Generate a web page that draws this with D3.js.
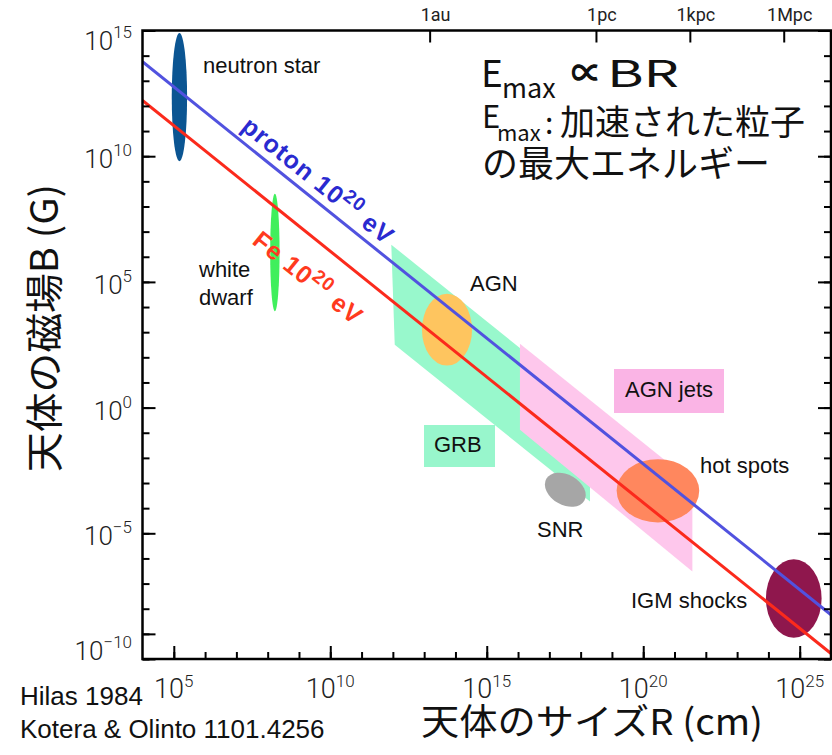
<!DOCTYPE html>
<html>
<head>
<meta charset="utf-8">
<script src="https://cdn.jsdelivr.net/npm/d3@7"></script>
<style>
  body { margin: 0; background: #fff; }
  svg { display: block; }
</style>
</head>
<body>
<div id="chart"></div>
<script>
// axis ticks (powers of ten)
var xMajorExp = [5, 10, 15, 20, 25];
var yMajorExp = [15, 10, 5, 0, -5, -10];
var topUnits = ["1au", "1pc", "1kpc", "1Mpc"];
var topUnitCm = [1.496e13, 3.086e18, 3.086e21, 3.086e24];

// Hillas condition lines, B*R product (G cm) for E = 10^20 eV
var lineNames = ["proton", "Fe"];
var lineBR = [Math.pow(10, 17.76), Math.pow(10, 16.22)];

// source classes: centre (log10 R, log10 B) and half sizes in decades
var objNames = ["neutron star", "white dwarf", "AGN", "SNR", "hot spots", "IGM shocks"];
var objLogR = [5.18, 8.23, 13.73, 17.51, 20.47, 24.81];
var objLogB = [12.35, 6.17, 3.10, -3.27, -3.31, -7.59];
var objHalfR = [0.245, 0.15, 0.80, 0.70, 1.32, 0.89];
var objHalfB = [2.55, 2.34, 1.43, 0.60, 1.26, 1.56];
var objTilt = [0, 0, 0, 30, 0, 0];

// bands, vertices as [log10 R, log10 B]
var grbBand = [[11.95, 6.48], [18.3, 0.13], [18.3, -3.74], [12.06, 2.50]];
var jetBand = [[16.06, 2.54], [21.57, -2.97], [21.57, -6.52], [16.06, -0.88]];

var width = 832, height = 755;
var pLeft = 142.5, pRight = 831, pTop = 30.5, pBottom = 659;

var objColor = ["#0b5592", "#40ef5c", "#fec55f", "#a6a6a6", "#ff875e", "#8f174d"];
var lineColor = ["#5152df", "#fb2a1c"];
var textColor = ["#2a2ad0", "#ff3a1e"];

var x = d3.scaleLog().domain([1e4, 1e26]).range([pLeft, pRight]);
var y = d3.scaleLog().domain([1e-10, 1e15]).range([pBottom, pTop]);
function p10(e) { return Math.pow(10, e); }

var svg = d3.select("#chart").append("svg")
  .attr("width", width)
  .attr("height", height);

svg.append("clipPath").attr("id", "plot-clip")
  .append("rect")
  .attr("x", pLeft).attr("y", pTop)
  .attr("width", pRight - pLeft).attr("height", pBottom - pTop);

var plot = svg.append("g").attr("clip-path", "url(#plot-clip)");

var toPoint = function(v) { return [x(p10(v[0])), y(p10(v[1]))]; };

plot.append("polygon")
  .attr("points", grbBand.map(toPoint).join(" "))
  .style("fill", "#98f8cc");

plot.append("polygon")
  .attr("points", jetBand.map(toPoint).join(" "))
  .style("fill", "#fec7ec");

// label boxes
plot.append("rect").attr("x", 614).attr("y", 369).attr("width", 110).attr("height", 44)
  .style("fill", "#fab4e5");
plot.append("rect").attr("x", 424).attr("y", 425).attr("width", 71).attr("height", 42)
  .style("fill", "#98f6cc");

plot.selectAll(".obj")
  .data(objNames)
  .enter().append("ellipse")
  .attr("class", "obj")
  .attr("transform", function(d, i) {
    return "translate(" + x(p10(objLogR[i])) + "," + y(p10(objLogB[i])) + ") rotate(" + objTilt[i] + ")";
  })
  .attr("rx", function(d, i) { return x(p10(objLogR[i] + objHalfR[i])) - x(p10(objLogR[i])); })
  .attr("ry", function(d, i) { return y(p10(objLogB[i])) - y(p10(objLogB[i] + objHalfB[i])); })
  .style("fill", function(d, i) { return objColor[i]; });

var line = d3.line()
  .x(function(d) { return x(d[0]); })
  .y(function(d) { return y(d[1]); });

plot.selectAll(".hillas")
  .data(lineBR)
  .enter().append("path")
  .attr("class", "hillas")
  .attr("d", function(br) { return line([[1e4, br / 1e4], [1e26, br / 1e26]]); })
  .style("fill", "none")
  .style("stroke", function(d, i) { return lineColor[i]; })
  .style("stroke-width", 3);

// rotated line labels
var angle = Math.atan2(y(1) - y(10), x(10) - x(1)) * 180 / Math.PI;
var lineLabelPos = [[240, 129], [251, 243]];
var lineLabelText = [["proton 10", "20", " eV"], ["Fe 10", "20", " eV"]];
lineLabelText.forEach(function(parts, i) {
  var t = svg.append("text")
    .attr("transform", "translate(" + lineLabelPos[i][0] + "," + lineLabelPos[i][1] + ") rotate(" + angle + ")")
    .style("font-family", "'Liberation Sans', Arial, sans-serif")
    .style("font-weight", "bold")
    .style("font-size", "25px")
    .style("letter-spacing", "1px")
    .style("fill", textColor[i]);
  t.append("tspan").text(parts[0]);
  t.append("tspan").attr("dy", -10).style("font-size", "19px").text(parts[1]);
  t.append("tspan").attr("dy", 10).text(parts[2]);
});

// object labels
var labels = [
  ["neutron star", 203, 73], ["white", 199, 277], ["dwarf", 199, 305],
  ["AGN", 470, 291], ["AGN jets", 625, 397], ["GRB", 434, 452],
  ["hot spots", 700, 473], ["SNR", 537, 537], ["IGM shocks", 631, 608]
];
svg.selectAll(".lbl")
  .data(labels)
  .enter().append("text")
  .attr("class", "lbl")
  .attr("x", function(d) { return d[1]; })
  .attr("y", function(d) { return d[2]; })
  .style("font-family", "'Liberation Sans', Arial, sans-serif")
  .style("font-size", "22px")
  .style("fill", "#111")
  .text(function(d) { return d[0]; });

// frame and ticks
function ticks(g) {
  g.select(".domain").remove();
  g.selectAll(".tick line").style("stroke", "#000").style("stroke-width", 2);
}
var allY = d3.range(-10, 16).map(p10);
var allX = d3.range(5, 26).map(p10);

svg.append("g").attr("transform", "translate(" + pLeft + ",0)")
  .call(d3.axisLeft(y).tickValues(allY).tickSize(-7).tickFormat(""))
  .call(ticks);
svg.append("g").attr("transform", "translate(" + pLeft + ",0)")
  .call(d3.axisLeft(y).tickValues(yMajorExp.concat([-9]).map(p10)).tickSize(-13).tickFormat(""))
  .call(ticks);
svg.append("g").attr("transform", "translate(" + pRight + ",0)")
  .call(d3.axisRight(y).tickValues(allY).tickSize(-7).tickFormat(""))
  .call(ticks);
svg.append("g").attr("transform", "translate(" + pRight + ",0)")
  .call(d3.axisRight(y).tickValues(yMajorExp.map(p10)).tickSize(-13).tickFormat(""))
  .call(ticks);
svg.append("g").attr("transform", "translate(0," + pBottom + ")")
  .call(d3.axisBottom(x).tickValues(allX).tickSize(-7).tickFormat(""))
  .call(ticks);
svg.append("g").attr("transform", "translate(0," + pBottom + ")")
  .call(d3.axisBottom(x).tickValues(xMajorExp.map(p10)).tickSize(-13).tickFormat(""))
  .call(ticks);
svg.append("g").attr("transform", "translate(0," + pTop + ")")
  .call(d3.axisTop(x).tickValues(topUnitCm).tickSize(-12).tickFormat(""))
  .call(ticks);

svg.append("rect")
  .attr("x", pLeft).attr("y", pTop)
  .attr("width", pRight - pLeft).attr("height", pBottom - pTop)
  .style("fill", "none")
  .style("stroke", "#000")
  .style("stroke-width", 2.5);

// tick labels
var tickFont = "Roboto, 'Liberation Sans', sans-serif";
function expText(e) { return e < 0 ? "\u2212" + (-e) : "" + e; }

yMajorExp.forEach(function(e) {
  var t = svg.append("text")
    .attr("x", 132)
    .attr("y", Math.max(50, Math.min(660, y(p10(e)) + 12)))
    .attr("text-anchor", "end")
    .style("font-family", tickFont)
    .style("font-weight", 300)
    .style("font-size", "26px")
    .style("fill", "#222");
  t.append("tspan").text("10");
  t.append("tspan").attr("dy", -12).style("font-size", "17px").text(expText(e));
});

xMajorExp.forEach(function(e) {
  var t = svg.append("text")
    .attr("x", x(p10(e)))
    .attr("y", 698)
    .attr("text-anchor", "middle")
    .style("font-family", tickFont)
    .style("font-weight", 300)
    .style("font-size", "27px")
    .style("fill", "#222");
  t.append("tspan").text("10");
  t.append("tspan").attr("dy", -11).style("font-size", "17px").text(expText(e));
});

topUnits.forEach(function(u, i) {
  svg.append("text")
    .attr("x", x(topUnitCm[i]) + 6)
    .attr("y", 21)
    .attr("text-anchor", "middle")
    .style("font-family", tickFont)
    .style("font-size", "18px")
    .style("fill", "#222")
    .text(u);
});

// axis titles
var jp = "'Noto Sans CJK JP', sans-serif";
svg.append("text")
  .attr("transform", "translate(58,328) rotate(-90)")
  .attr("text-anchor", "middle")
  .attr("textLength", 288)
  .attr("lengthAdjust", "spacingAndGlyphs")
  .style("font-family", jp)
  .style("font-size", "38px")
  .style("fill", "#111")
  .text("天体の磁場B (G)");

svg.append("text")
  .attr("x", 421)
  .attr("y", 735)
  .attr("textLength", 342)
  .attr("lengthAdjust", "spacingAndGlyphs")
  .style("font-family", jp)
  .style("font-size", "36px")
  .style("fill", "#111")
  .text("天体のサイズR (cm)");

// credits
["Hilas 1984", "Kotera & Olinto 1101.4256"].forEach(function(s, i) {
  svg.append("text")
    .attr("x", 20)
    .attr("y", 705 + i * 33)
    .style("font-family", "'Liberation Sans', Arial, sans-serif")
    .style("font-size", "26px")
    .style("fill", "#111")
    .text(s);
});

// Emax annotation
var note = [
  ["E", 481, 87, 37, 0], ["max", 502, 98, 27, 0], ["\u221D", 571, 87, 37, 31], ["BR", 607, 87, 37, 72],
  ["E", 482, 128, 31, 0], ["max", 497, 141, 22, 0], [":", 545, 134, 30, 0],
  ["加速された粒子", 560, 135, 35, 0], ["の最大エネルギー", 482, 177, 36, 0]
];
svg.selectAll(".note")
  .data(note)
  .enter().append("text")
  .attr("class", "note")
  .attr("x", function(d) { return d[1]; })
  .attr("y", function(d) { return d[2]; })
  .attr("textLength", function(d) { return d[4] || null; })
  .attr("lengthAdjust", "spacingAndGlyphs")
  .style("font-family", jp)
  .style("font-weight", function(d) { return d[0] === "\u221D" ? "bold" : "normal"; })
  .style("font-size", function(d) { return d[3] + "px"; })
  .style("fill", "#111")
  .text(function(d) { return d[0]; });
</script>
</body>
</html>
